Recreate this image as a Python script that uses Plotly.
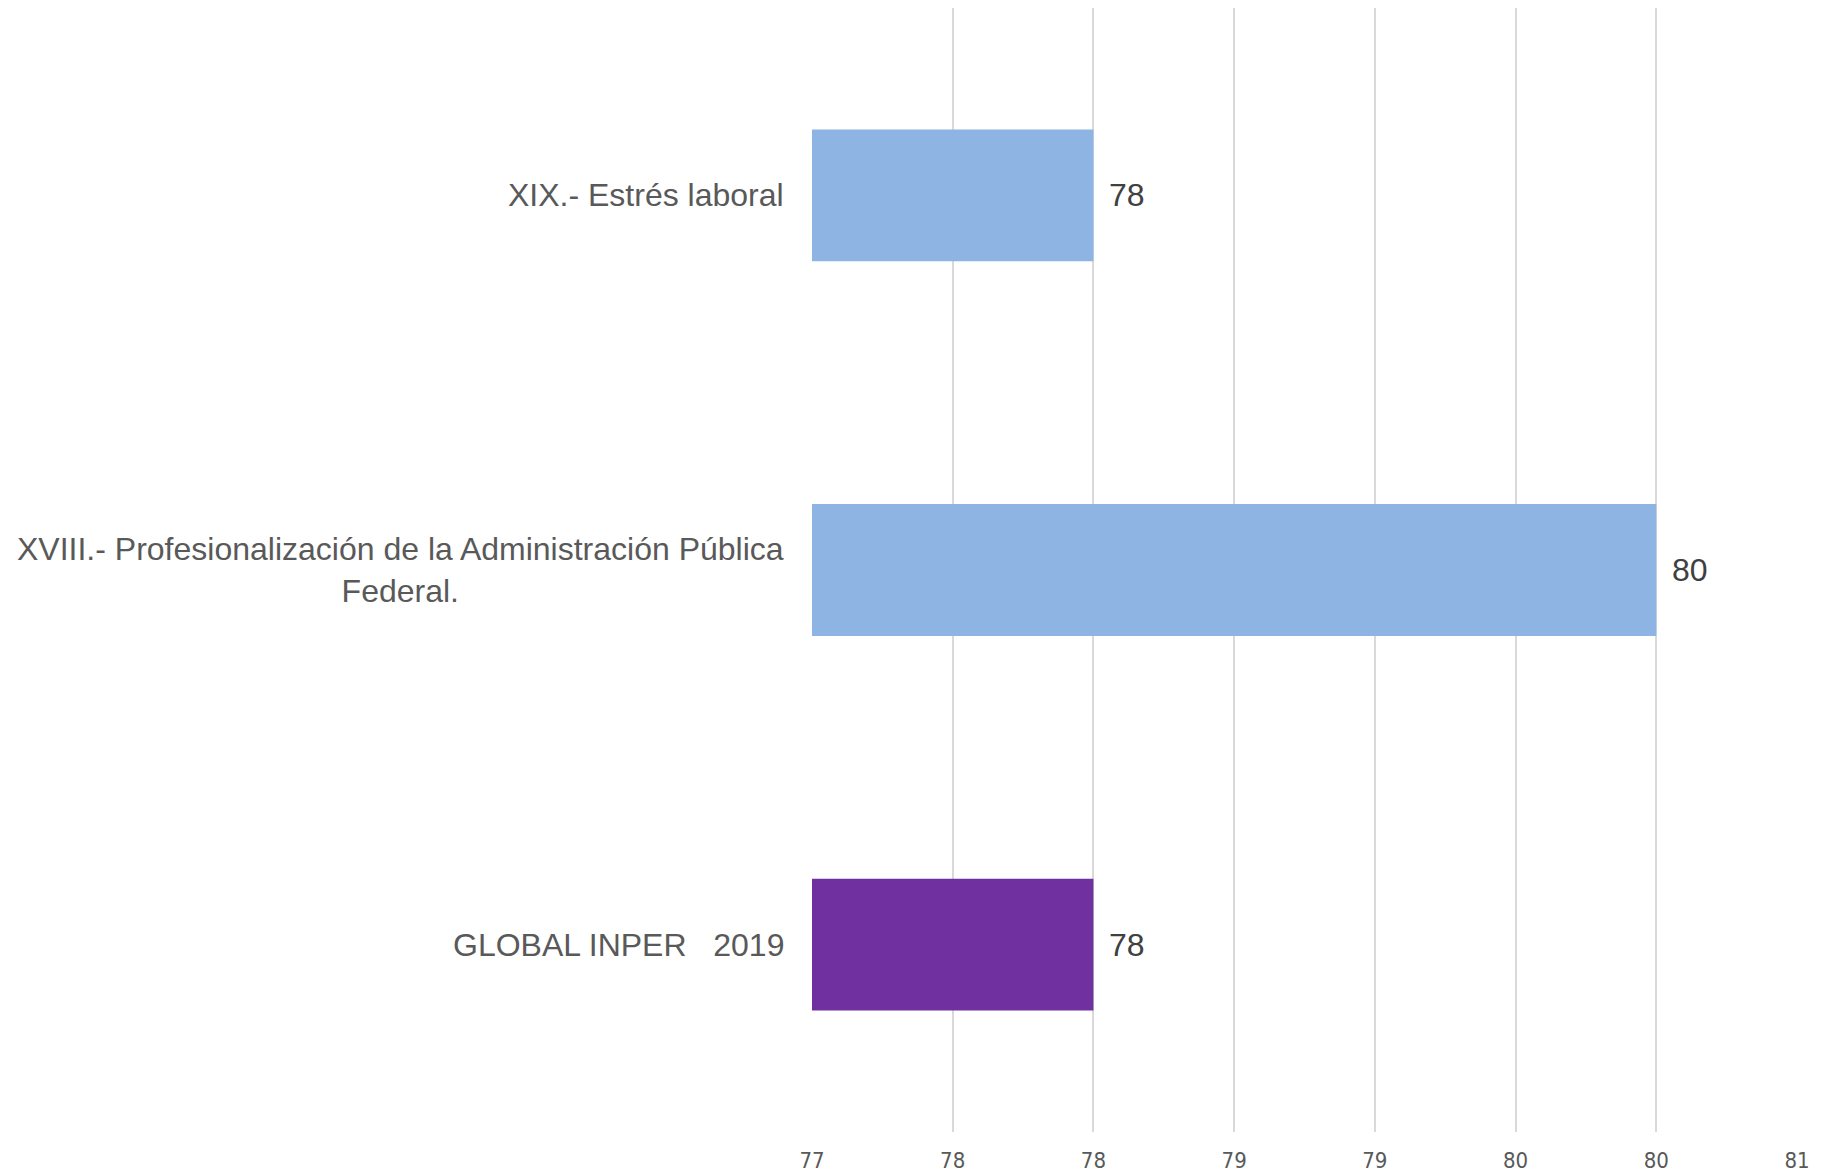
import plotly.graph_objects as go

# data
categories = [
    "GLOBAL INPER\u00a0\u00a0\u00a02019",
    "XVIII.- Profesionalización de la Administración Pública<br>Federal.",
    "XIX.- Estrés laboral",
]
values = [78, 80, 78]
bar_colors = ["#7030A0", "#8EB4E3", "#8EB4E3"]

tick_vals = [77, 77.5, 78, 78.5, 79, 79.5, 80, 80.5]
tick_text = ["77", "78", "78", "79", "79", "80", "80", "81"]

fig = go.Figure()

fig.add_trace(go.Bar(
    y=categories,
    x=[v - 77 for v in values],
    base=77,
    orientation="h",
    marker=dict(color=bar_colors, line=dict(width=0)),
    width=0.352,
    hoverinfo="skip",
))

# category labels on the left, centred multi-line like the original
for cat in categories:
    fig.add_annotation(
        x=0, xref="paper", y=cat, yref="y",
        text=cat, showarrow=False,
        xanchor="right", yanchor="middle", align="center",
        xshift=-26,
        font=dict(family="Liberation Sans, Arial, sans-serif", size=32, color="#595959"),
    )

# value labels just past the bar ends
for cat, v in zip(categories, values):
    fig.add_annotation(
        x=v, xref="x", y=cat, yref="y",
        text=str(v), showarrow=False,
        xanchor="left", yanchor="middle",
        xshift=14,
        font=dict(family="Liberation Sans, Arial, sans-serif", size=32, color="#404040"),
    )

# page body adds an 8px offset, margins account for it
fig.update_layout(
    width=1831, height=1175,
    margin=dict(l=804, r=42, t=0, b=51),
    paper_bgcolor="white",
    plot_bgcolor="white",
    showlegend=False,
    xaxis=dict(
        range=[77, 80.5],
        tickvals=tick_vals,
        ticktext=tick_text,
        showgrid=True,
        gridcolor="#D9D9D9",
        gridwidth=1.5,
        zeroline=False,
        showline=False,
        ticks="",
        ticklabelstandoff=13,
        tickfont=dict(family="Liberation Sans Narrow, DejaVu Sans Condensed, sans-serif",
                      size=22, color="#595959"),
    ),
    yaxis=dict(
        type="category",
        categoryorder="array",
        categoryarray=categories,
        range=[-0.5, 2.5],
        showticklabels=False,
        showgrid=False,
        zeroline=False,
        showline=False,
        ticks="",
    ),
)

fig.write_html("out.html")
